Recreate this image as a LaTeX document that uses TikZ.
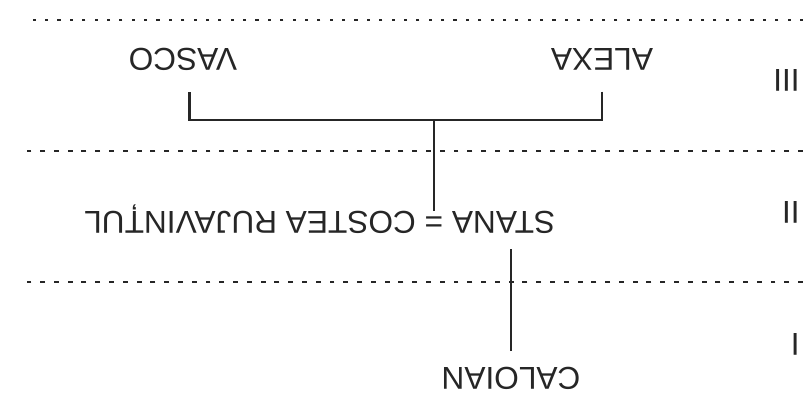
\documentclass[tikz,border=0pt]{standalone}
\usepackage{fontspec}
\setmainfont{Liberation Sans}
\tikzset{
  person/.style={inner sep=0pt,outer xsep=0pt,outer ysep=11pt,text=black!85},
  child/.style={person,outer ysep=15.5pt},
  kin/.style={draw=black!85,line width=1.9pt},
  gen/.style={draw=black!85,line width=1.8pt,dash pattern=on 3.5pt off 6.3pt},
  gentop/.style={gen,dash pattern=on 2.2pt off 6.6pt},
  level/.style={inner sep=0pt,text=black!85}
}
\begin{document}
\begin{tikzpicture}[x=0.025cm,y=-0.025cm,font=\fontsize{22.5pt}{27pt}\selectfont]
\useasboundingbox (0,0) rectangle (803,409);
\begin{scope}[rotate around={180:(401.5,204.5)},transform shape]
% generation lines
\draw[gen] (0,127) -- (776,127);
\draw[gen] (0,258) -- (776,258);
\draw[gentop] (0,389) -- (776,389);

\node[level,anchor=base west] (gen1) at (3,76) {I};
\node[level,anchor=base west] (gen2) at (3,208) {II};
\node[level,anchor=base west] (gen3) at (3,340) {III};

\node[person,anchor=base] (caloian) at (292,42) {CALOIAN};
\node[person,anchor=base] (eq) at (369,198) {=};
\node[person,anchor=base east] (stana) at ([xshift=-6.25pt]eq.base west) {STANA};
\node[person,anchor=base west] (costea) at ([xshift=6.25pt]eq.base east) {COSTEA RUJAVINȚUL};
\node[child,anchor=base] (alexa) at (201,361) {ALEXA};
\node[child,anchor=base] (vasco) at (620,361) {VASCO};
\coordinate (fork) at (369,289);

% descent
\draw[kin] (caloian.south) -- (caloian.south |- stana.north);
\draw[kin] (eq.base) -- (fork);
\draw[kin] (alexa.north) |- (fork) -| ([xshift=-4.6pt]vasco.north);
\end{scope}
\end{tikzpicture}
\end{document}
